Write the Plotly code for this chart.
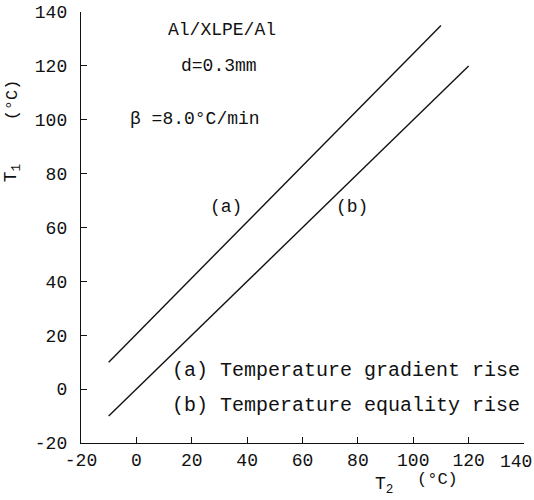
import plotly.graph_objects as go

# Data
t2_a = [-10, 110]
t1_a = [10, 135]
t2_b = [-10, 120]
t1_b = [-10, 120]

x_ticks = [-20, 0, 20, 40, 60, 80, 100, 120, 140]
y_ticks = [-20, 0, 20, 40, 60, 80, 100, 120, 140]
# last x label is drawn separately (right-aligned to stay inside the page)
x_ticktext = ["-20", "0", "20", "40", "60", "80", "100", "120", ""]
x_last_label = "140"
y_ticktext = [str(v) for v in y_ticks]

FONT = "Liberation Mono, Courier New, monospace"
INK = "#111111"
TICK_SIZE = 18

fig = go.Figure()
fig.add_trace(go.Scatter(x=t2_a, y=t1_a, mode="lines",
                         line=dict(color=INK, width=1.4), showlegend=False))
fig.add_trace(go.Scatter(x=t2_b, y=t1_b, mode="lines",
                         line=dict(color=INK, width=1.4), showlegend=False))

axis_common = dict(
    showgrid=False, zeroline=False, showline=True, linecolor=INK, linewidth=1.4,
    ticks="inside", ticklen=6, tickwidth=1.2, tickcolor=INK, mirror=False,
    automargin=False,
    tickfont=dict(family=FONT, size=TICK_SIZE, color=INK),
)
fig.update_xaxes(range=[-20, 140], tickvals=x_ticks, ticktext=x_ticktext, **axis_common)
fig.update_yaxes(range=[-20, 140], tickvals=y_ticks, ticktext=y_ticktext,
                 ticklabelstandoff=9, **axis_common)

def ann(x, y, text, size=16, xanchor="center", xref="x", yref="y", angle=0):
    fig.add_annotation(x=x, y=y, xref=xref, yref=yref, text=text, showarrow=False,
                       xanchor=xanchor, yanchor="middle", textangle=angle,
                       font=dict(family=FONT, size=size, color=INK))

# last x tick label
ann((534 - 81) / 443, (443 - 462) / 431, x_last_label, TICK_SIZE, xanchor="right",
    xref="paper", yref="paper")

# text inside plot
ann(30.9, 133.5, "Al/XLPE/Al", 18)
ann(29.8, 120, "d=0.3mm", 18)
ann(-3.0, 100.3, "β =8.0°C/min", 18, xanchor="left")
ann(32.4, 67.5, "(a)", 18)
ann(77.9, 67.5, "(b)", 18)
ann(12.2, 7.1, "(a) Temperature gradient rise", 20, xanchor="left")
ann(12.2, -5.9, "(b) Temperature equality rise", 20, xanchor="left")

# axis titles
ann(-0.155, (443 - 173) / 431, "T<sub>1</sub>", 18, xref="paper", yref="paper", angle=-90)
ann(-0.155, (443 - 100) / 431, "(°C)", 17, xref="paper", yref="paper", angle=-90)
ann((384 - 81) / 443, (443 - 485) / 431, "T<sub>2</sub>", 18, xref="paper", yref="paper")
ann((437 - 81) / 443, (443 - 479) / 431, "(°C)", 17, xref="paper", yref="paper")

fig.update_layout(
    width=534, height=500,
    margin=dict(l=81, r=10, t=12, b=57),
    plot_bgcolor="white", paper_bgcolor="white",
)

fig.write_html("out.html")
